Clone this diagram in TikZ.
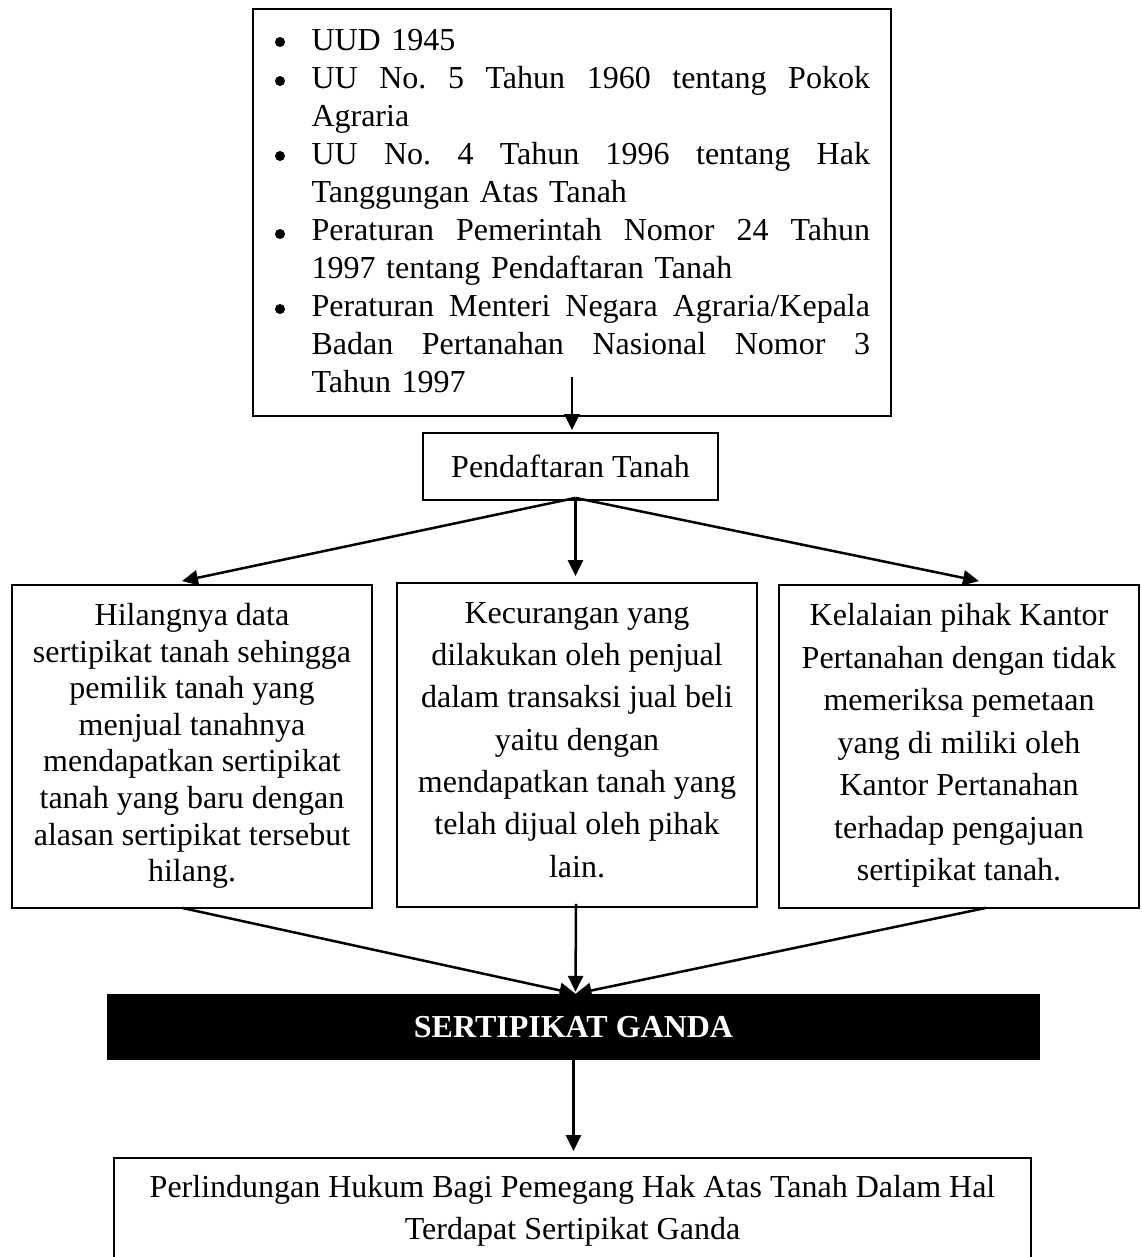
\documentclass[tikz,border=0pt]{standalone}
\usepackage{fontspec}
\setmainfont{Liberation Serif}
\usetikzlibrary{arrows.meta}
\newcommand\jline[1]{\makebox[558.5pt][s]{\frenchspacing\spaceskip=0pt\xspaceskip=0pt #1}}
\begin{document}
\begin{tikzpicture}[x=1pt,y=-1pt,
  box/.style={draw, line width=1.8pt, inner sep=0pt},
  txt/.style={align=center, inner sep=0pt},
  arr/.style={line width=2.5pt, -{Triangle[length=16pt,width=15pt]}},
]
\useasboundingbox (0,0) rectangle (1141,1257);
\fill[white] (0,0) rectangle (1141,1257);
\clip (0,0) rectangle (1141,1257);

% top box
\node[box, minimum width=638pt, minimum height=407pt] (T) at (572,212.5) {};
\node[font=\fontsize{32}{38}\selectfont, text width=558.5pt, align=left, inner sep=0pt] (Tt) at (590.75,211.2) {%
UUD 1945\\
\jline{UU No. 5 Tahun 1960 tentang Pokok}\\
Agraria\\
\jline{UU No. 4 Tahun 1996 tentang Hak}\\
Tanggungan Atas Tanah\\
\jline{Peraturan Pemerintah Nomor 24 Tahun}\\
1997 tentang Pendaftaran Tanah\\
\jline{Peraturan Menteri Negara Agraria/Kepala}\\
\jline{Badan Pertanahan Nasional Nomor 3}\\
Tahun 1997};
\foreach \yy in {42,81,156,234,309} \fill (280,\yy) circle (5pt);

% Pendaftaran Tanah
\node[box, minimum width=295pt, minimum height=67pt, font=\fontsize{32}{38}\selectfont] (P) at (570.5,466.5) {Pendaftaran Tanah};

% three boxes
\node[box, minimum width=360pt, minimum height=323pt] (L) at (192,746.5) {};
\node[box, minimum width=360pt, minimum height=324pt] (M) at (577,745) {};
\node[box, minimum width=360pt, minimum height=323pt] (R) at (959,746.5) {};

\node[txt, font=\fontsize{32}{36.6}\selectfont] (Lt) at (192,746) {Hilangnya data\\sertipikat tanah sehingga\\pemilik tanah yang\\menjual tanahnya\\mendapatkan sertipikat\\tanah yang baru dengan\\alasan sertipikat tersebut\\hilang.};
\node[txt, font=\fontsize{32}{42.3}\selectfont] (Mt) at (577,740) {Kecurangan yang\\dilakukan oleh penjual\\dalam transaksi jual beli\\yaitu dengan\\mendapatkan tanah yang\\telah dijual oleh pihak\\lain.};
\node[txt, font=\fontsize{32}{42.5}\selectfont] (Rt) at (959,745.5) {Kelalaian pihak Kantor\\Pertanahan dengan tidak\\memeriksa pemetaan\\yang di miliki oleh\\Kantor Pertanahan\\terhadap pengajuan\\sertipikat tanah.};

% black bar
\node[fill=black, minimum width=933pt, minimum height=66pt, inner sep=0pt, text=white, font=\bfseries\fontsize{32}{38}\selectfont] (G) at (573.5,1027) {SERTIPIKAT GANDA};

% bottom box
\node[box, minimum width=917pt, minimum height=122pt] (B) at (572.5,1219) {};
\node[txt, font=\fontsize{32}{42}\selectfont] (Bt) at (572.5,1210.5) {Perlindungan Hukum Bagi Pemegang Hak Atas Tanah Dalam Hal\\Terdapat Sertipikat Ganda};

% connectors
\coordinate (a0) at (572,377);
\coordinate (ps) at ([xshift=5pt,yshift=3pt]P.south);
\coordinate (gt) at ([xshift=2pt]G.north);
\draw[arr] (a0) -- ([yshift=2pt]a0 |- P.north);
\draw[arr] (ps) -- ([xshift=-10pt,yshift=3pt]L.north);
\draw[arr] (ps) -- ([yshift=6pt]ps |- M.north);
\draw[arr] (ps) -- ([xshift=20pt,yshift=3pt]R.north);
\draw[arr] ([xshift=-10pt,yshift=1pt]L.south) -- (gt);
\draw[arr] ([xshift=-1pt,yshift=4pt]M.south) -- ([yshift=2pt]gt);
\draw[arr] ([xshift=27pt,yshift=1pt]R.south) -- (gt);
\draw[arr] (G.south) -- ([yshift=6pt]G.south |- B.north);
\end{tikzpicture}
\end{document}
